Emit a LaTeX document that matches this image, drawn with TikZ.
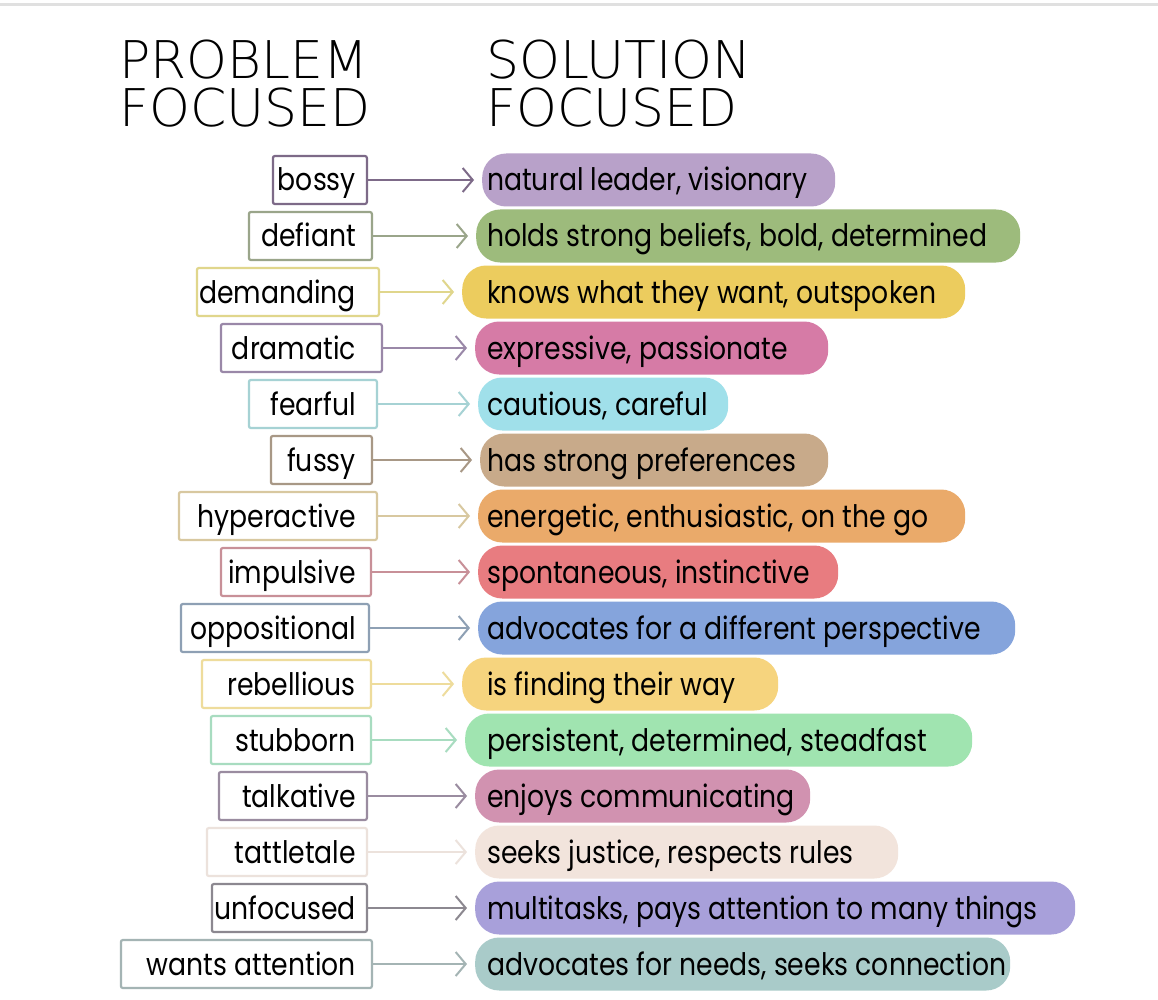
\documentclass[tikz,border=0pt]{standalone}
\usepackage{fontspec}
\setmainfont{Poppins}[FakeStretch=0.86]
\newfontfamily\hdrfont{DejaVu Sans ExtraLight}
\usetikzlibrary{arrows.meta}

\definecolor{bA}{HTML}{7D6A88}\definecolor{fA}{HTML}{B8A1C9}
\definecolor{bB}{HTML}{9AA58A}\definecolor{fB}{HTML}{9DBB7C}
\definecolor{bC}{HTML}{E0D68C}\definecolor{fC}{HTML}{ECCC5E}
\definecolor{bD}{HTML}{9A88A8}\definecolor{fD}{HTML}{D67BA6}
\definecolor{bE}{HTML}{A6D2D4}\definecolor{fE}{HTML}{A0E0EA}
\definecolor{bF}{HTML}{A89886}\definecolor{fF}{HTML}{C8AA8A}
\definecolor{bG}{HTML}{D8C8A0}\definecolor{fG}{HTML}{EAAA6A}
\definecolor{bH}{HTML}{C89098}\definecolor{fH}{HTML}{E87C80}
\definecolor{bI}{HTML}{8EA0B4}\definecolor{fI}{HTML}{85A4DC}
\definecolor{bJ}{HTML}{EEDC9C}\definecolor{fJ}{HTML}{F6D47E}
\definecolor{bK}{HTML}{A8DCC0}\definecolor{fK}{HTML}{A0E4B0}
\definecolor{bL}{HTML}{9A8CA0}\definecolor{fL}{HTML}{D192B0}
\definecolor{bM}{HTML}{ECE2DC}\definecolor{fM}{HTML}{F2E4DC}
\definecolor{bN}{HTML}{8C8890}\definecolor{fN}{HTML}{A8A0DA}
\definecolor{bO}{HTML}{A4B4B4}\definecolor{fO}{HTML}{A9CBC9}

\tikzset{
  pbox/.style={draw, line width=2.2pt, inner xsep=6pt, inner ysep=0pt,
    minimum height=48pt, text height=28pt, text depth=6pt, anchor=east,
    rounded corners=2pt, font=\fontsize{31}{33}\selectfont},
  sblob/.style={inner xsep=9pt, inner ysep=0pt, minimum height=53pt,
    text height=28pt, text depth=6pt, anchor=west, rounded corners=24pt,
    font=\fontsize{31}{33}\selectfont},
  conn/.style={line width=2pt, shorten >=8pt,
    -{Straight Barb[length=10pt,width=24pt,line width=2pt]}},
  hdr/.style={anchor=base west, inner sep=0pt, font=\hdrfont\fontsize{52}{52}\selectfont}
}

% #1 index, #2 box left, #3 box right, #4 letter, #5 word, #6 blob left, #7 blob right, #8 phrase
\newcommand\pfrow[8]{%
  \pgfmathsetmacro\yy{180+56*#1}%
  \pgfmathsetmacro\bw{#3-#2-12}%
  \pgfmathsetmacro\rk{#3-357-6}%
  \pgfmathsetmacro\sw{#7-#6-18}%
  \pgfmathsetmacro\lk{487-#6-9}%
  \node[pbox, draw=b#4] (p#1) at (#3,\yy) {\makebox[\bw pt][r]{#5\hspace*{\rk pt}}};
  \node[sblob, fill=f#4] (s#1) at (#6,\yy) {\makebox[\sw pt][l]{\hspace*{\lk pt}#8}};
  \draw[conn, draw=b#4] (p#1.east) -- (s#1.west);
}

\begin{document}
\begin{tikzpicture}[x=1pt,y=-1pt]
\useasboundingbox[fill=white] (0,0) rectangle (1158,1000);
\draw[line width=3pt, black!12] (0,5) -- (1158,5);

\node[hdr] (h1) at (119,79) {PROBLEM};
\node[hdr] (h2) at (119,127) {FOCUSED};
\node[hdr] (h3) at (486,79) {SOLUTION};
\node[hdr] (h4) at (486,127) {FOCUSED};

\pfrow{0}{274}{368}{A}{bossy}{482}{835}{natural leader, visionary}
\pfrow{1}{250}{373}{B}{defiant}{476}{1020}{holds strong beliefs, bold, determined}
\pfrow{2}{198}{380}{C}{demanding}{462}{965}{knows what they want, outspoken}
\pfrow{3}{222}{383}{D}{dramatic}{475}{828}{expressive, passionate}
\pfrow{4}{250}{378}{E}{fearful}{478}{728}{cautious, careful}
\pfrow{5}{272}{373}{F}{fussy}{480}{828}{has strong preferences}
\pfrow{6}{180}{378}{G}{hyperactive}{478}{965}{energetic, enthusiastic, on the go}
\pfrow{7}{222}{372}{H}{impulsive}{478}{838}{spontaneous, instinctive}
\pfrow{8}{182}{370}{I}{oppositional}{478}{1015}{advocates for a different perspective}
\pfrow{9}{203}{372}{J}{rebellious}{462}{778}{is finding their way}
\pfrow{10}{212}{372}{K}{stubborn}{465}{972}{persistent, determined, steadfast}
\pfrow{11}{220}{368}{L}{talkative}{475}{810}{enjoys communicating}
\pfrow{12}{208}{368}{M}{tattletale}{475}{898}{seeks justice, respects rules}
\pfrow{13}{213}{368}{N}{unfocused}{475}{1075}{multitasks, pays attention to many things}
\pfrow{14}{122}{373}{O}{wants attention}{475}{1010}{advocates for needs, seeks connection}
\end{tikzpicture}
\end{document}
